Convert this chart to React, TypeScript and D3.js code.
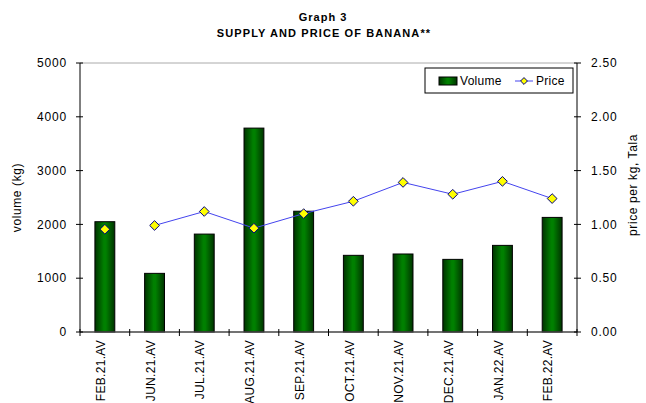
import * as d3 from 'd3';
import React, { useEffect, useRef } from 'react';

const months = ['FEB.21.AV', 'JUN.21.AV', 'JUL.21.AV', 'AUG.21.AV', 'SEP.21.AV', 'OCT.21.AV', 'NOV.21.AV', 'DEC.21.AV', 'JAN.22.AV', 'FEB.22.AV'];
const volume = [2050, 1090, 1820, 3790, 2245, 1425, 1450, 1350, 1610, 2130];
const price = [0.955, 0.99, 1.12, 0.965, 1.10, 1.215, 1.39, 1.28, 1.40, 1.24];
// the first price point stands alone in the source, the line starts at JUN.21
const lineFrom = 1;
const volTicks = [0, 1000, 2000, 3000, 4000, 5000];
const priceTicks = [0, 0.5, 1, 1.5, 2, 2.5];

const W = 646, H = 403;
const m = { left: 80, right: 69, top: 63, bottom: 71 };
const font = '"Liberation Sans", Arial, sans-serif';

export default function App() {
    const ref = useRef<SVGSVGElement>(null);

    useEffect(() => {
        const svg = d3.select(ref.current);
        svg.selectAll('*').remove();
        svg.attr('font-family', font);

        const x0 = m.left, x1 = W - m.right, y0 = H - m.bottom, y1 = m.top;
        const x = d3.scaleBand().domain(months).range([x0, x1]);
        const yv = d3.scaleLinear().domain([0, 5000]).range([y0, y1]);
        const yp = d3.scaleLinear().domain([0, 2.5]).range([y0, y1]);
        const cx = (i: number) => x(months[i])! + x.bandwidth() / 2;

        const defs = svg.append('defs');
        const grad = defs.append('linearGradient').attr('id', 'barGrad')
            .attr('x1', '0%').attr('x2', '100%').attr('y1', '0%').attr('y2', '0%');
        grad.append('stop').attr('offset', '0%').attr('stop-color', '#003300');
        grad.append('stop').attr('offset', '45%').attr('stop-color', '#008000');
        grad.append('stop').attr('offset', '55%').attr('stop-color', '#008000');
        grad.append('stop').attr('offset', '100%').attr('stop-color', '#003300');

        // title
        svg.append('text').attr('x', 323).attr('y', 21).attr('text-anchor', 'middle')
            .attr('font-size', 11).attr('font-weight', 'bold').attr('letter-spacing', 1).text('Graph 3');
        svg.append('text').attr('x', 324).attr('y', 37).attr('text-anchor', 'middle')
            .attr('font-size', 11).attr('font-weight', 'bold').attr('letter-spacing', 1.1).text('SUPPLY AND PRICE OF BANANA**');

        // top border
        svg.append('line').attr('x1', x0).attr('x2', x1).attr('y1', y1).attr('y2', y1)
            .attr('stroke', '#aaa').attr('stroke-width', 1);

        // bars
        const bw = x.bandwidth() * 0.4;
        svg.append('g').selectAll('rect').data(volume).enter().append('rect')
            .attr('x', (d, i) => cx(i) - bw / 2)
            .attr('y', d => yv(d))
            .attr('width', bw)
            .attr('height', d => y0 - yv(d))
            .attr('fill', 'url(#barGrad)')
            .attr('stroke', '#000').attr('stroke-width', 1);

        // axis lines
        svg.append('line').attr('x1', x0).attr('x2', x0).attr('y1', y1).attr('y2', y0).attr('stroke', '#000');
        svg.append('line').attr('x1', x1).attr('x2', x1).attr('y1', y1).attr('y2', y0).attr('stroke', '#000');
        svg.append('line').attr('x1', x0).attr('x2', x1).attr('y1', y0).attr('y2', y0).attr('stroke', '#444').attr('stroke-width', 1.5);

        // left ticks
        const lt = svg.append('g').selectAll('g').data(volTicks).enter().append('g');
        lt.append('line').attr('x1', x0 - 4).attr('x2', x0 + 3).attr('y1', d => yv(d)).attr('y2', d => yv(d)).attr('stroke', '#000');
        lt.append('text').attr('x', x0 - 13).attr('y', d => yv(d)).attr('dy', '0.35em')
            .attr('text-anchor', 'end').attr('font-size', 12).attr('letter-spacing', 0.8).text(d => d);

        // right ticks
        const rt = svg.append('g').selectAll('g').data(priceTicks).enter().append('g');
        rt.append('line').attr('x1', x1 - 3).attr('x2', x1 + 4).attr('y1', d => yp(d)).attr('y2', d => yp(d)).attr('stroke', '#000');
        rt.append('text').attr('x', x1 + 14).attr('y', d => yp(d)).attr('dy', '0.35em')
            .attr('font-size', 12).attr('letter-spacing', 0.8)
            .text(d => d3.format('.2f')(d));

        // x ticks at category boundaries
        const bounds = months.map(d => x(d)!).concat([x1]);
        svg.append('g').selectAll('line').data(bounds).enter().append('line')
            .attr('x1', d => d).attr('x2', d => d).attr('y1', y0 - 3).attr('y2', y0 + 4).attr('stroke', '#000');

        // x labels (run off the bottom edge as in the source)
        svg.append('g').selectAll('text').data(months).enter().append('text')
            .attr('transform', (d, i) => `translate(${cx(i) - 4},${y0 + 8}) rotate(-90)`)
            .attr('dy', '0.35em').attr('text-anchor', 'end')
            .attr('font-size', 12).attr('letter-spacing', 0.3)
            .text(d => d);

        // axis titles
        svg.append('text').attr('transform', `translate(21,${(y0 + y1) / 2}) rotate(-90)`)
            .attr('text-anchor', 'middle').attr('font-size', 12).attr('letter-spacing', 0.6).text('volume (kg)');
        svg.append('text').attr('transform', `translate(637,185) rotate(-90)`)
            .attr('text-anchor', 'middle').attr('font-size', 12).attr('letter-spacing', 0.6).text('price per kg, Tala');

        // price line
        const line = d3.line<number>()
            .defined((d, i) => i >= lineFrom)
            .x((d, i) => cx(i))
            .y(d => yp(d));
        svg.append('path').attr('d', line(price))
            .attr('fill', 'none').attr('stroke', '#4444ee').attr('stroke-width', 1);

        const diamond = d3.symbol().type(d3.symbolDiamond2).size(60);
        svg.append('g').selectAll('path').data(price).enter().append('path')
            .attr('transform', (d, i) => `translate(${cx(i)},${yp(d)})`)
            .attr('d', diamond())
            .attr('fill', '#ffff00').attr('stroke', '#000080').attr('stroke-width', 1);

        // legend
        const lg = svg.append('g').attr('transform', 'translate(425,68)');
        lg.append('rect').attr('width', 148).attr('height', 25).attr('fill', '#fff').attr('stroke', '#000');
        lg.append('rect').attr('x', 14).attr('y', 9).attr('width', 18).attr('height', 8)
            .attr('fill', 'url(#barGrad)').attr('stroke', '#000');
        lg.append('text').attr('x', 35).attr('y', 13).attr('dy', '0.35em').attr('font-size', 12).attr('letter-spacing', 0.3).text('Volume');
        lg.append('line').attr('x1', 90).attr('x2', 108).attr('y1', 13).attr('y2', 13).attr('stroke', '#4444ee');
        lg.append('path').attr('transform', 'translate(99,13)').attr('d', d3.symbol().type(d3.symbolDiamond2).size(30)())
            .attr('fill', '#ffff00').attr('stroke', '#000080');
        lg.append('text').attr('x', 111).attr('y', 13).attr('dy', '0.35em').attr('font-size', 12).attr('letter-spacing', 0.3).text('Price');
    }, []);

    return (
        <svg ref={ref} width={W} height={H}
            style={{ position: 'absolute', left: 0, top: 0, background: '#fff' }} />
    );
}
